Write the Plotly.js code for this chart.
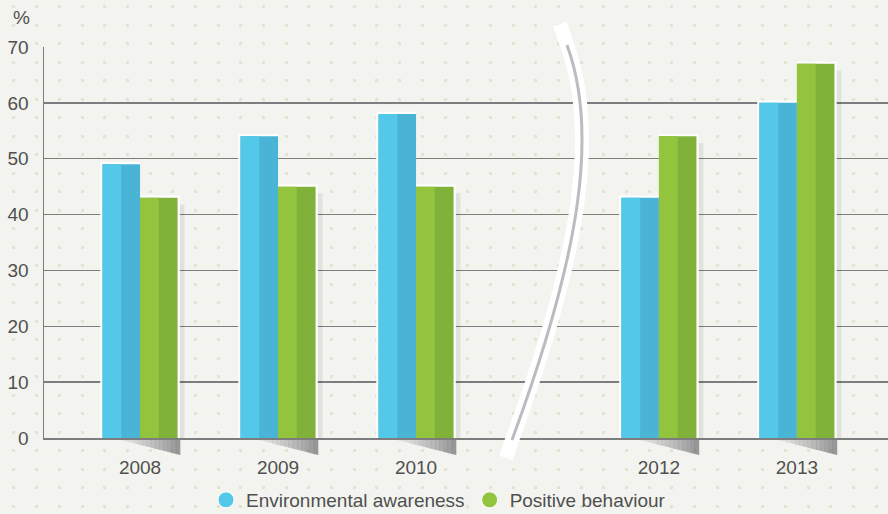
<!DOCTYPE html>
<html>
<head>
<meta charset="utf-8">
<script src="https://cdn.plot.ly/plotly-3.0.1.min.js"></script>
<style>
html,body{margin:0;padding:0;width:888px;height:514px;overflow:hidden;}
body{
  background-color:#f3f4ef;
  background-image:url("data:image/svg+xml;utf8,<svg xmlns='http://www.w3.org/2000/svg' width='22.7' height='18.5'><rect x='0' y='0' width='3' height='3' fill='%23e1e5d0'/></svg>");
  background-size:22.7px 18.5px;
  background-position:12.5px 5.5px;
}
#chart{width:888px;height:514px;}
</style>
</head>
<body>
<div id="chart"></div>
<script>
// ---- data ----
const years = ['2008', '2009', '2010', '2012', '2013'];
const awareness = [49, 54, 58, 43, 60];
const behaviour = [43, 45, 45, 54, 67];
const yTickVals = [0, 10, 20, 30, 40, 50, 60, 70];
const seriesNames = ['Environmental awareness', 'Positive behaviour'];

// ---- layout constants ----
const BREAK_GAP = 0.76;          // extra space for the axis break between 2010 and 2012
const xPos = years.map((y, i) => i + (Number(y) > 2011 ? BREAK_GAP : 0));
const W = 0.272;                  // bar width (axis units)
const PX_X = 138;                 // px per x unit
const L = 44, T = 47, PW = 844, PH = 391;

const blueLight = '#53c8e8', blueDark = '#4ab4d6';
const greenLight = '#92c43e', greenDark = '#80b239';

function bar(y, offset, width, color, extra) {
  return Object.assign({
    type: 'bar', x: xPos, y: y, offset: offset, width: width,
    marker: {color: color, line: {width: 0}},
    showlegend: false, hoverinfo: 'skip'
  }, extra || {});
}

const pad = 0.016;
const traces = [
  // soft right shadow of the green bars
  bar(behaviour.map(v => v - 1.2), 0.05, W, 'rgba(0,0,0,0.07)'),
  // white outlines
  bar(awareness.map(v => v + 0.4), -W - pad, W + pad, '#ffffff'),
  bar(behaviour.map(v => v + 0.4), 0, W + pad, '#ffffff'),
  // full bars (dark half colour)
  bar(awareness, -W, W, blueDark),
  bar(behaviour, 0, W, greenDark),
  // light left halves
  bar(awareness, -W, W / 2, blueLight),
  bar(behaviour, 0, W / 2, greenLight),
  // legend entries
  {type: 'scatter', mode: 'markers', x: [null], y: [null], name: seriesNames[0],
   marker: {color: blueLight, size: 18, symbol: 'circle', line: {color: '#ffffff', width: 1}}, hoverinfo: 'skip'},
  {type: 'scatter', mode: 'markers', x: [null], y: [null], name: seriesNames[1],
   marker: {color: greenLight, size: 18, symbol: 'circle', line: {color: '#ffffff', width: 1}}, hoverinfo: 'skip'}
];

// ---- shapes ----
const px = x => (x - L) / PW;
const py = y => (T + PH - y) / PH;
function pt(q) { return px(q[0]).toFixed(5) + ',' + py(q[1]).toFixed(5); }
const curve = [[567, 45], [598, 130], [582, 250], [512, 440]];
const curveC = ' C' + pt(curve[1]) + ' ' + pt(curve[2]) + ' ' + pt(curve[3]);
const shapes = [];
// base shadows below each group (gradient imitated with slices)
const nSlices = 16;
xPos.forEach(c => {
  const xl = c - 27 / PX_X, xr = c + 40 / PX_X;
  const depth = 17 / PH;
  for (let i = 0; i < nSlices; i++) {
    const a = xl + (xr - xl) * i / nSlices;
    const b = xl + (xr - xl) * (i + 1) / nSlices + 0.002;
    const da = depth * i / nSlices, db = depth * (i + 1) / nSlices;
    const op = 0.05 + 0.6 * Math.pow((i + 0.5) / nSlices, 1.3);
    shapes.push({
      type: 'path', xref: 'x', yref: 'paper', layer: 'below',
      path: `M${a},0 L${b},0 L${b},${-db} L${a},${-da} Z`,
      fillcolor: `rgba(95,95,100,${op.toFixed(3)})`, line: {width: 0}
    });
  }
});
// axis break: white band + grey line
shapes.push({
  type: 'path', xref: 'paper', yref: 'paper', layer: 'above',
  path: 'M' + pt([560, 24]) + ' L' + pt(curve[0]) + curveC + ' L' + pt([506, 458]),
  line: {color: '#ffffff', width: 14}
});
shapes.push({
  type: 'path', xref: 'paper', yref: 'paper', layer: 'above',
  path: 'M' + pt(curve[0]) + curveC,
  line: {color: '#bcbcbf', width: 3}
});

const font = {family: 'Liberation Sans, Arial, sans-serif', size: 19, color: '#505050'};

const layout = {
  width: 888, height: 514,
  margin: {l: L, r: 0, t: T, b: 514 - T - PH, autoexpand: false},
  paper_bgcolor: 'rgba(0,0,0,0)',
  plot_bgcolor: 'rgba(0,0,0,0)',
  barmode: 'overlay',
  font: font,
  showlegend: true,
  legend: {
    orientation: 'h', x: px(206), xanchor: 'left', y: py(500), yanchor: 'middle',
    font: font, bgcolor: 'rgba(0,0,0,0)', itemclick: false, itemdoubleclick: false,
    tracegroupgap: 0
  },
  xaxis: {
    range: [-0.696, 5.42],
    tickvals: xPos, ticktext: years,
    showgrid: false, zeroline: false,
    showline: true, linecolor: '#7d7d7d', linewidth: 1.5,
    ticks: '', ticklabelstandoff: 12,
    tickfont: font, fixedrange: true
  },
  yaxis: {
    range: [0, 70],
    tickvals: yTickVals,
    showgrid: true, gridcolor: '#7d7d7d', gridwidth: 1.5,
    zeroline: false,
    showline: true, linecolor: '#7d7d7d', linewidth: 1.5,
    ticks: '', ticklabelstandoff: 10,
    tickfont: font, fixedrange: true
  },
  annotations: [{
    text: '%', xref: 'paper', yref: 'paper', x: px(11), y: py(18),
    xanchor: 'left', yanchor: 'middle', showarrow: false, font: font
  }],
  shapes: shapes
};

Plotly.newPlot('chart', traces, layout, {displayModeBar: false, staticPlot: true});
</script>
</body>
</html>
